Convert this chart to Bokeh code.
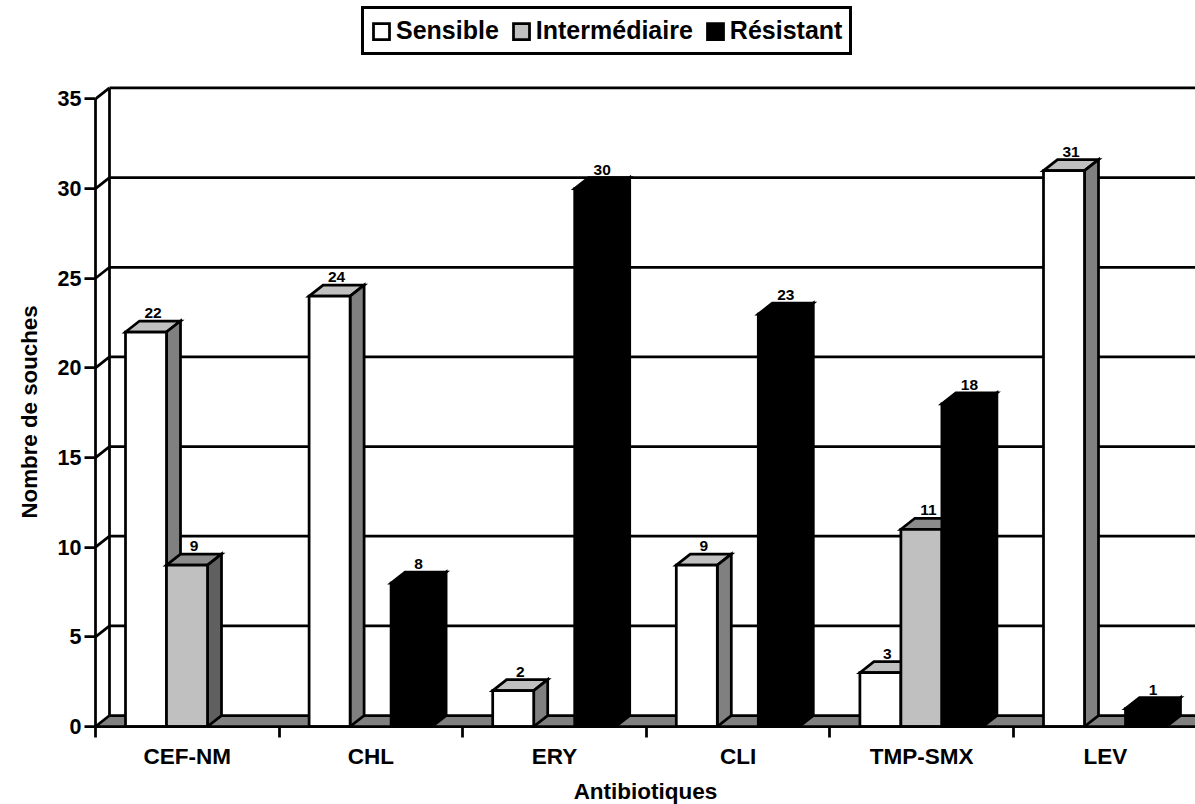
from bokeh.plotting import figure
from bokeh.models import (Range1d, FixedTicker, LinearAxis, Legend, LegendItem, Title)
from bokeh.core.properties import value
from bokeh.embed import file_html
from bokeh.resources import INLINE

categories = ["CEF-NM", "CHL", "ERY", "CLI", "TMP-SMX", "LEV"]
series_names = ["Sensible", "Intermédiaire", "Résistant"]
sensible = [22, 24, 2, 9, 3, 31]
intermediaire = [9, 0, 0, 0, 11, 0]
resistant = [0, 8, 30, 23, 18, 1]
y_ticks = [0, 5, 10, 15, 20, 25, 30, 35]

FONT = "Liberation Sans"
CAT_PX = 183.6
UNIT_PX = 17.93
DX = 14 / CAT_PX
DY = 11 / UNIT_PX
BAR_W = 41 / CAT_PX
GAP = 30 / CAT_PX
X_END = 1100 / CAT_PX
Y_END = 726 / UNIT_PX
LW = 2.75

p = figure(width=1195, height=804, output_backend="svg", toolbar_location=None,
           x_range=Range1d(0, X_END), y_range=Range1d(0, Y_END),
           x_axis_type=None, y_axis_type=None, frame_height=726,
           min_border_left=95, min_border_right=0, min_border_top=0, min_border_bottom=78)
p.outline_line_color = None
p.grid.visible = False
p.background_fill_color = "white"

# axes
yaxis = LinearAxis(ticker=FixedTicker(ticks=y_ticks), bounds=(0, 35))
yaxis.axis_line_width = LW
yaxis.axis_line_color = "black"
yaxis.major_tick_line_width = LW
yaxis.major_tick_line_color = "black"
yaxis.major_tick_out = 11
yaxis.major_tick_in = 0
yaxis.minor_tick_line_color = None
yaxis.major_label_standoff = 3
yaxis.major_label_text_font = FONT
yaxis.major_label_text_font_style = "bold"
yaxis.major_label_text_font_size = "21.5px"
yaxis.major_label_text_color = "black"
p.add_layout(yaxis, "left")

y_title = Title(text="Nombre de souches", align="left", offset=208, standoff=25,
                text_font=FONT, text_font_style="bold", text_font_size="22.3px",
                text_color="black")
p.add_layout(y_title, "left")

centers = [i + 0.5 for i in range(len(categories))]
xaxis = LinearAxis(ticker=FixedTicker(ticks=centers, minor_ticks=list(range(len(categories) + 1))),
                   axis_label="Antibiotiques",
                   major_label_overrides={c: n for c, n in zip(centers, categories)})
xaxis.axis_line_width = LW
xaxis.axis_line_color = "black"
xaxis.major_tick_line_color = None
xaxis.major_tick_out = 0
xaxis.major_tick_in = 0
xaxis.minor_tick_line_width = LW
xaxis.minor_tick_line_color = "black"
xaxis.minor_tick_out = 11
xaxis.minor_tick_in = 0
xaxis.major_label_standoff = 6
xaxis.major_label_text_font = FONT
xaxis.major_label_text_font_style = "bold"
xaxis.major_label_text_font_size = "22.5px"
xaxis.major_label_text_color = "black"
xaxis.axis_label_text_font = FONT
xaxis.axis_label_text_font_style = "bold"
xaxis.axis_label_text_font_size = "22.5px"
xaxis.axis_label_text_color = "black"
xaxis.axis_label_standoff = 7
p.add_layout(xaxis, "below")

# floor and back wall
p.patch([0, DX, X_END, X_END], [0, DY, DY, 0], fill_color="#808080", line_color=None)
p.segment(x0=[DX] * len(y_ticks), y0=[v + DY for v in y_ticks],
          x1=[X_END] * len(y_ticks), y1=[v + DY for v in y_ticks],
          line_color="black", line_width=LW)
p.segment(x0=[0] * len(y_ticks), y0=y_ticks,
          x1=[DX] * len(y_ticks), y1=[v + DY for v in y_ticks],
          line_color="black", line_width=LW)
p.segment(x0=[DX], y0=[DY], x1=[DX], y1=[35 + DY], line_color="black", line_width=LW)

# bars
styles = [("white", "#c0c0c0", "#808080"),
          ("#c0c0c0", "#8c8c8c", "#606060"),
          ("black", "black", "black")]
front_renderers = []
all_series = [sensible, intermediaire, resistant]
for s, vals in enumerate(all_series):
    front, top, side = styles[s]
    xs = [i + GAP + s * BAR_W for i, v in enumerate(vals) if v > 0]
    hs = [v for v in vals if v > 0]
    p.patches([[x, x + DX, x + BAR_W + DX, x + BAR_W] for x in xs],
              [[h, h + DY, h + DY, h] for h in hs],
              fill_color=top, line_color="black", line_width=LW, line_join="miter")
    p.patches([[x + BAR_W, x + BAR_W + DX, x + BAR_W + DX, x + BAR_W] for x in xs],
              [[0, DY, h + DY, h] for h in hs],
              fill_color=side, line_color="black", line_width=LW, line_join="miter")
    r = p.quad(left=xs, right=[x + BAR_W for x in xs], bottom=[0] * len(xs), top=hs,
               fill_color=front, line_color="black", line_width=LW, line_join="miter")
    front_renderers.append(r)

# value labels, on top so that later bars do not hide them
for s, vals in enumerate(all_series):
    xs = [i + GAP + s * BAR_W + BAR_W / 2 + DX / 2 for i, v in enumerate(vals) if v > 0]
    hs = [v + DY for v in vals if v > 0]
    txt = [str(v) for v in vals if v > 0]
    p.text(x=xs, y=hs, text=txt, text_align="center", text_baseline="alphabetic",
           text_font=value(FONT), text_font_style="bold", text_font_size="15.5px",
           text_color="black", y_offset=-8)

legend = Legend(items=[LegendItem(label=n, renderers=[r]) for n, r in zip(series_names, front_renderers)],
                orientation="horizontal", location=(266, 671),
                label_text_font=FONT, label_text_font_style="bold", label_text_font_size="25px",
                label_text_color="black", glyph_width=20, glyph_height=20, label_standoff=5,
                spacing=12, padding=7, margin=0, border_line_color="black", border_line_alpha=1,
                border_line_width=3, background_fill_color="white", background_fill_alpha=1)
p.add_layout(legend, "center")

open("out.html", "w").write(file_html(p, INLINE))
